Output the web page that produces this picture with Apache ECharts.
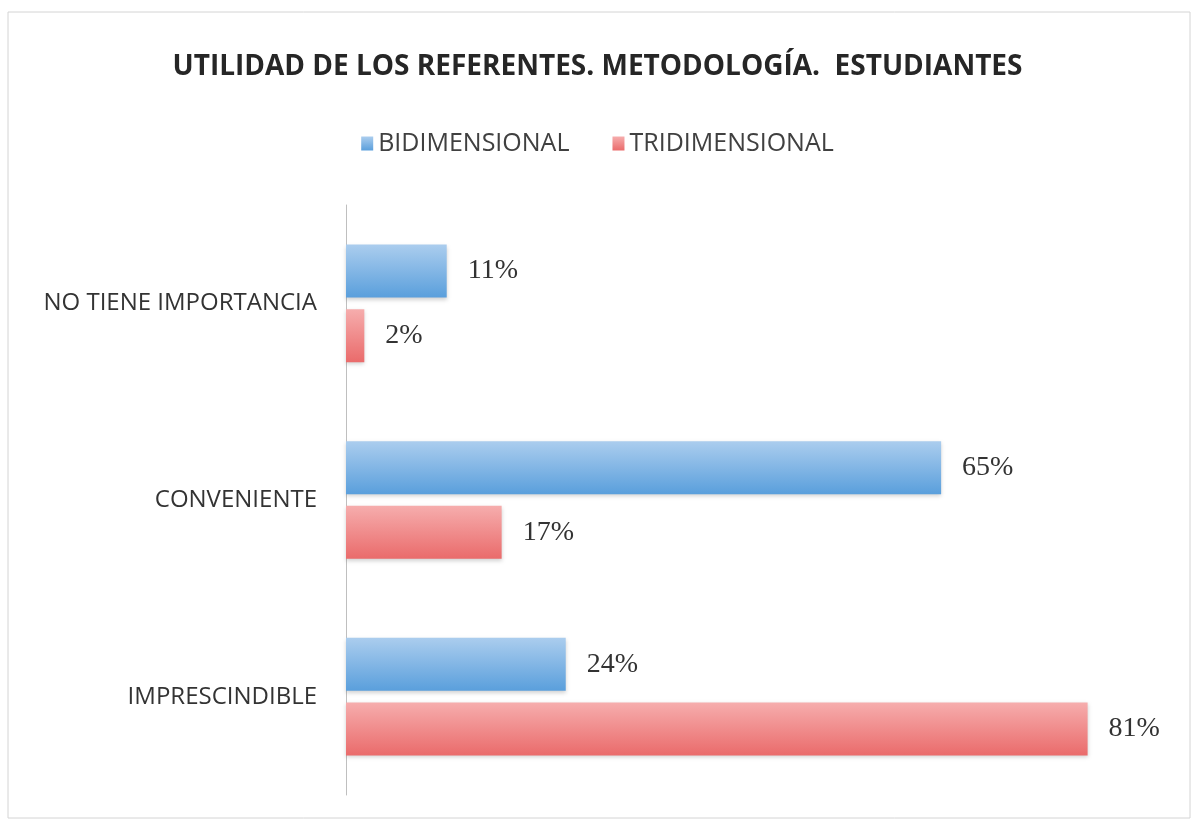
<!DOCTYPE html>
<html>
<head>
<meta charset="utf-8">
<script src="https://cdn.jsdelivr.net/npm/echarts@6/dist/echarts.min.js"></script>
<style>
  html, body { margin: 0; padding: 0; background: #fff; }
  #main { width: 1195px; height: 825px; }
</style>
</head>
<body>
<div id="main"></div>
<script>
var categories = ['NO TIENE IMPORTANCIA', 'CONVENIENTE', 'IMPRESCINDIBLE'];
var seriesNames = ['BIDIMENSIONAL', 'TRIDIMENSIONAL'];
var bidimensional = [11, 65, 24];
var tridimensional = [2, 17, 81];

function grad(top, bottom) {
    return new echarts.graphic.LinearGradient(0, 0, 0, 1, [
        {offset: 0, color: top},
        {offset: 1, color: bottom}
    ]);
}

var chart = echarts.init(document.getElementById('main'));
var labelStyle = {
    show: true,
    position: 'right',
    distance: 21,
    formatter: '{c}%',
    fontFamily: 'Liberation Serif',
    fontSize: 28,
    color: '#333'
};

chart.setOption({
    backgroundColor: '#fff',
    title: {
        text: 'UTILIDAD DE LOS REFERENTES. METODOLOGÍA.  ESTUDIANTES',
        left: 'center',
        top: 48,
        textStyle: {
            fontFamily: 'Open Sans',
            fontWeight: 'bold',
            fontSize: 28,
            color: '#262626'
        }
    },
    legend: {
        data: seriesNames,
        top: 126,
        left: 'center',
        itemWidth: 12,
        itemHeight: 14,
        itemGap: 43,
        itemTextGap: 6,
        icon: 'rect',
        textStyle: {
            fontFamily: 'Open Sans',
            fontSize: 25,
            color: '#404040'
        }
    },
    graphic: [{
        type: 'rect',
        shape: {x: 8, y: 12, width: 1182, height: 806},
        style: {fill: 'none', stroke: '#d4d4d4', lineWidth: 1},
        silent: true
    }],
    grid: {
        left: 346,
        right: 25,
        top: 205,
        bottom: 30
    },
    xAxis: {
        type: 'value',
        min: 0,
        max: 90,
        show: false
    },
    yAxis: {
        type: 'category',
        data: categories,
        inverse: true,
        axisLine: {lineStyle: {color: '#bfbfbf', width: 1}},
        axisTick: {show: false},
        axisLabel: {
            fontFamily: 'Open Sans',
            fontSize: 24,
            color: '#333',
            margin: 29
        }
    },
    series: [{
        name: seriesNames[0],
        type: 'bar',
        data: bidimensional,
        barWidth: 53,
        barGap: '22%',
        itemStyle: {
            color: grad('#abcdee', '#5a9fdc'),
            shadowColor: 'rgba(0,0,0,0.18)',
            shadowBlur: 4,
            shadowOffsetY: 2
        },
        label: labelStyle
    }, {
        name: seriesNames[1],
        type: 'bar',
        data: tridimensional,
        barWidth: 53,
        itemStyle: {
            color: grad('#f6adad', '#ea6b6b'),
            shadowColor: 'rgba(0,0,0,0.18)',
            shadowBlur: 4,
            shadowOffsetY: 2
        },
        label: labelStyle
    }]
});
</script>
</body>
</html>
